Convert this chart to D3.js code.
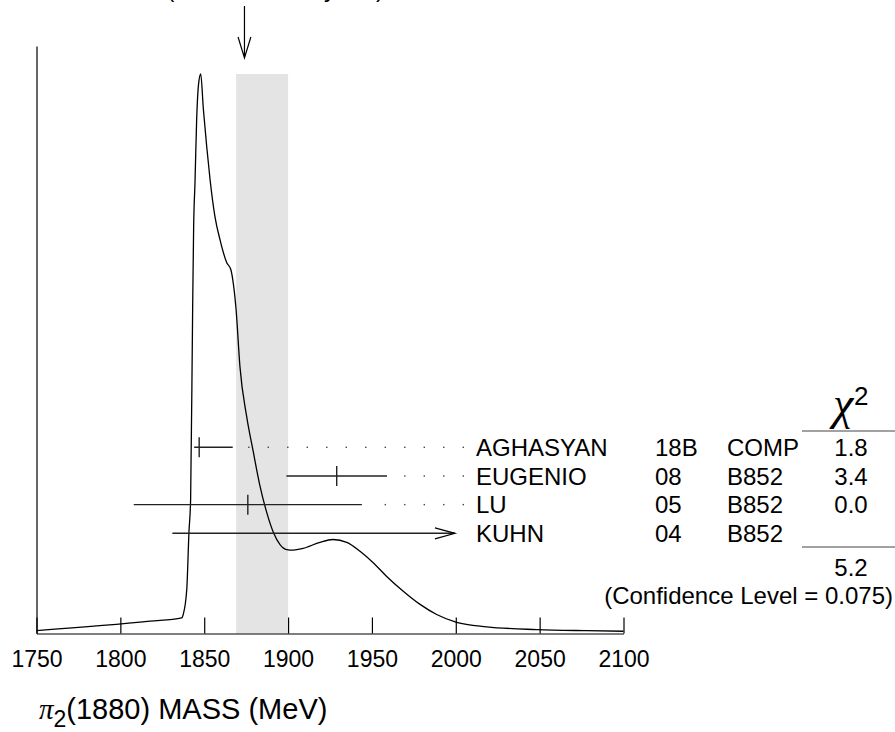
<!DOCTYPE html>
<html>
<head>
<meta charset="utf-8">
<script src="https://cdn.jsdelivr.net/npm/d3@7"></script>
<style>
  body { margin: 0; background: #fff; }
  text { font-family: "Liberation Sans", Arial, sans-serif; fill: #000; }
</style>
</head>
<body>
<svg width="895" height="732"></svg>
<script>

// measurements (MeV)
var names = ["AGHASYAN", "EUGENIO", "LU", "KUHN"];
var years = ["18B", "08", "05", "04"];
var expts = ["COMP", "B852", "B852", "B852"];
var values = [1847, 1929, 1876, 2003];
var errLo = [3, 30, 68, 172];
var errHi = [20, 30, 68, 172];
var chi2 = ["1.8", "3.4", "0.0", ""];

// ideogram curve
var curveMass = [1750, 1817.7, 1836.6, 1837.5, 1839.6, 1840.9, 1841.9, 1843.1, 1843.7, 1844.5,
  1845.5, 1846.6, 1847.9, 1849.5, 1851.5, 1853.5, 1856.4, 1859.4, 1863.4, 1865.8,
  1867.0, 1869.0, 1871.3, 1875.3, 1879.3, 1883.3, 1887.3, 1891.2, 1895.2, 1899.2,
  1903.1, 1908.9, 1919.0, 1926.8, 1935.0, 1942.9, 1950.6, 1958.8, 1968.5, 1978.7,
  1988.6, 2000.5, 2018.4, 2048.3, 2078.1, 2100];
var curveHeight = [0.005, 0.022, 0.028, 0.034, 0.079, 0.181, 0.240, 0.579, 0.727, 0.806,
  0.919, 0.981, 1.0, 0.937, 0.870, 0.811, 0.745, 0.704, 0.663, 0.651,
  0.633, 0.579, 0.477, 0.388, 0.324, 0.263, 0.216, 0.181, 0.159, 0.150,
  0.149, 0.152, 0.163, 0.168, 0.163, 0.147, 0.127, 0.102, 0.076, 0.052,
  0.034, 0.020, 0.012, 0.007, 0.005, 0.004];

var xTicks = [1750, 1800, 1850, 1900, 1950, 2000, 2050, 2100];
var average = 1874;
var band = [1869, 1900];
var chi2Total = "5.2";
var confLevel = "(Confidence Level = 0.075)";
var topLine = "1874\u00b126 (Error scaled by 1.6)";

var svg = d3.select("svg");

var x = d3.scaleLinear().domain([1750, 2100]).range([36.5, 623.5]);
var y = d3.scaleLinear().domain([0, 1.05]).range([633.5, 46]);
var rowY = d3.scalePoint().domain(names).range([447.3, 533.3]);
var clipMax = 1999.5; // bars stop before the text column

// shaded band (PDG estimate)
svg.append("rect")
  .attr("x", x(band[0]))
  .attr("y", y(1.0))
  .attr("width", x(band[1]) - x(band[0]))
  .attr("height", y(0) - y(1.0))
  .attr("fill", "#e4e4e4");

// axes
var xAxis = d3.axisBottom(x).tickValues(xTicks).tickFormat(d3.format("d"))
  .tickSizeInner(-16).tickSizeOuter(0).tickPadding(17);
var gx = svg.append("g").attr("transform", "translate(0," + y(0) + ")").call(xAxis);
gx.selectAll("text").style("font-size", "23px").attr("fill", "#000");
gx.selectAll("line, path").attr("stroke", "#000").attr("stroke-width", 1.2);

var gy = svg.append("g").attr("transform", "translate(" + x(1750) + ",0)")
  .call(d3.axisLeft(y).ticks(0).tickSizeOuter(0));
gy.select("path").attr("stroke", "#000").attr("stroke-width", 1.2);

// ideogram
var line = d3.line()
  .x(function(d, i) { return x(curveMass[i]); })
  .y(function(d) { return y(d); })
  .curve(d3.curveMonotoneX);

svg.append("path")
  .datum(curveHeight)
  .attr("d", line)
  .attr("fill", "none")
  .attr("stroke", "#000")
  .attr("stroke-width", 1.3);

// weighted average arrow
var ax = x(average);
svg.append("path")
  .attr("d", "M" + ax + ",6V58M" + (ax - 6.4) + ",37L" + ax + ",58L" + (ax + 6.4) + ",37")
  .attr("fill", "none").attr("stroke", "#000").attr("stroke-width", 1.2);

// only the descenders of this line show at the top edge, as in the original
svg.append("text")
  .attr("x", 384).attr("y", -3)
  .attr("text-anchor", "end")
  .style("font-size", "24px")
  .text(topLine);

// measurement rows
names.forEach(function(n, i) {
  var yy = rowY(n);
  var lo = values[i] - errLo[i];
  var hi = values[i] + errHi[i];
  var g = svg.append("g");
  var end = x(Math.min(hi, clipMax));
  g.append("line")
    .attr("x1", x(lo)).attr("x2", end)
    .attr("y1", yy).attr("y2", yy)
    .attr("stroke", "#222").attr("stroke-width", 1.4);
  if (values[i] <= clipMax) {
    g.append("line")
      .attr("x1", x(values[i])).attr("x2", x(values[i]))
      .attr("y1", yy - 10).attr("y2", yy + 10)
      .attr("stroke", "#222").attr("stroke-width", 1.4);
  }
  if (hi > clipMax) {
    g.append("path")
      .attr("d", "M" + (end - 20) + "," + (yy - 5.5) + "L" + end + "," + yy + "L" + (end - 20) + "," + (yy + 5.5))
      .attr("fill", "none").attr("stroke", "#000").attr("stroke-width", 1.2);
  } else {
    // dotted leader
    for (var dx = 463.3; dx > end + 12; dx -= 19.5) {
      g.append("rect").attr("x", dx - 0.7).attr("y", yy - 0.7)
        .attr("width", 1.4).attr("height", 1.4).attr("fill", "#444");
    }
  }
  var ty = yy + 8.8;
  g.append("text").attr("x", 476).attr("y", ty).style("font-size", "24px").text(n);
  g.append("text").attr("x", 655).attr("y", ty).style("font-size", "24px").text(years[i]);
  g.append("text").attr("x", 727).attr("y", ty).style("font-size", "24px").text(expts[i]);
  g.append("text").attr("x", 851).attr("y", ty).attr("text-anchor", "middle")
    .style("font-size", "24px").text(chi2[i]);
});

// chi2 header and total
svg.append("text").attr("x", 843).attr("y", 419).attr("text-anchor", "middle")
  .style("font-family", "'Liberation Serif', serif").style("font-style", "italic")
  .style("font-size", "46px").text("\u03c7");
svg.append("text").attr("x", 854).attr("y", 405).style("font-size", "26px").text("2");
svg.append("line").attr("x1", 802).attr("x2", 895).attr("y1", 431).attr("y2", 431)
  .attr("stroke", "#444").attr("stroke-width", 1.2);
svg.append("line").attr("x1", 802).attr("x2", 895).attr("y1", 547).attr("y2", 547)
  .attr("stroke", "#444").attr("stroke-width", 1.2);
svg.append("text").attr("x", 851).attr("y", 576).attr("text-anchor", "middle")
  .style("font-size", "24px").text(chi2Total);
svg.append("text").attr("x", 893).attr("y", 604).attr("text-anchor", "end")
  .style("font-size", "24px").text(confLevel);

// axis title
var title = svg.append("text").attr("x", 39).attr("y", 719).style("font-size", "29px");
title.append("tspan").style("font-family", "'Liberation Serif', serif").style("font-style", "italic").text("\u03c0");
title.append("tspan").attr("dy", 8).style("font-size", "23px").text("2");
title.append("tspan").attr("dy", -8).text("(1880) MASS (MeV)");

</script>
</body>
</html>
